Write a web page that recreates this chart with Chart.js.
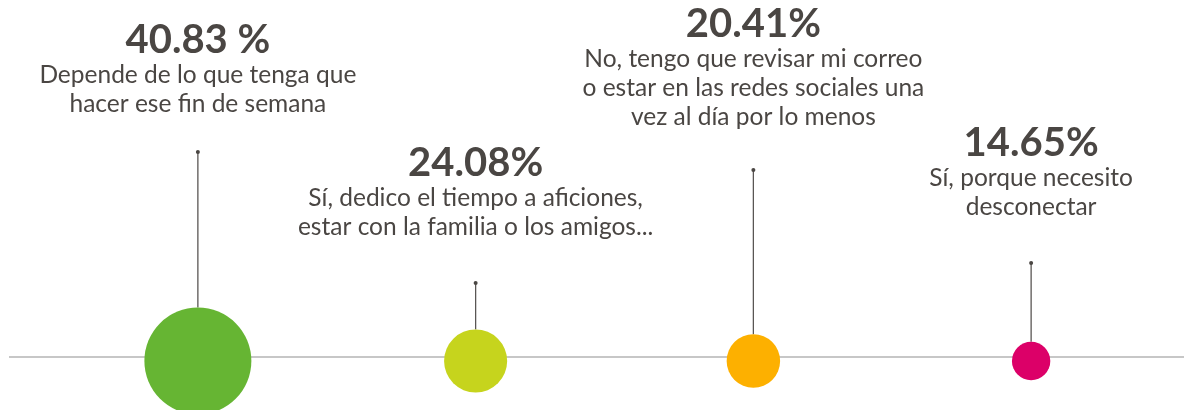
<!DOCTYPE html>
<html>
<head>
<meta charset="utf-8">
<title>Fin de semana</title>
<script src="https://cdn.jsdelivr.net/npm/chart.js"></script>
<style>
html, body { margin: 0; padding: 0; background: #fff; }
.chart-container { position: relative; width: 1184px; height: 410px; }
</style>
</head>
<body>
<div class="chart-container"><canvas id="myChart"></canvas></div>
<script>
// Data
const categories = [
  ['Depende de lo que tenga que', 'hacer ese fin de semana'],
  ['Sí, dedico el tiempo a aficiones,', 'estar con la familia o los amigos...'],
  ['No, tengo que revisar mi correo', 'o estar en las redes sociales una', 'vez al día por lo menos'],
  ['Sí, porque necesito', 'desconectar']
];
const values = [40.83, 24.08, 20.41, 14.65];
const valueLabels = ['40.83 %', '24.08%', '20.41%', '14.65%'];
const colors = ['#66b533', '#c6d41d', '#fdb000', '#dc0068'];

// Layout (pixels)
const stemTops = [152, 283, 170, 263];
const pctBaselines = [53, 176, 37, 156];
const radiusPerPoint = 1.31;
const baselineY = 357;
const textColor = '#4a4643';

// Draws the baseline, stems, dots and labels
const annotate = {
  id: 'annotate',
  beforeDatasetsDraw(chart) {
    const c = chart.ctx;
    c.save();
    c.strokeStyle = '#b4b4b4';
    c.lineWidth = 1.5;
    c.beginPath();
    c.moveTo(9, baselineY);
    c.lineTo(chart.width, baselineY);
    c.stroke();

    const meta = chart.getDatasetMeta(0);
    meta.data.forEach((pt, i) => {
      const r = pt.options.radius;
      c.strokeStyle = '#5a5654';
      c.lineWidth = 1.3;
      c.beginPath();
      c.moveTo(pt.x, pt.y - r);
      c.lineTo(pt.x, stemTops[i]);
      c.stroke();
      c.fillStyle = textColor;
      c.beginPath();
      c.arc(pt.x, stemTops[i], 2, 0, Math.PI * 2);
      c.fill();

      c.textAlign = 'center';
      c.textBaseline = 'alphabetic';
      c.font = 'bold 40px Lato';
      c.fillText(valueLabels[i], pt.x, pctBaselines[i]);
      c.font = '24.5px Lato';
      categories[i].forEach((line, j) => {
        c.fillText(line, pt.x, pctBaselines[i] + 30 + 28.8 * j);
      });
    });
    c.restore();
  }
};

const ctx = document.getElementById('myChart').getContext('2d');
const chart = new Chart(ctx, {
  type: 'bubble',
  data: {
    datasets: [{
      data: values.map((v, i) => ({ x: i, y: 0, r: v * radiusPerPoint })),
      backgroundColor: colors,
      hoverBackgroundColor: colors,
      borderWidth: 0,
      clip: false
    }]
  },
  options: {
    responsive: true,
    maintainAspectRatio: false,
    animation: false,
    layout: { autoPadding: false, padding: { left: 59, right: 14, top: 0, bottom: 49 } },
    scales: {
      x: { type: 'linear', min: -0.5, max: 3.5, display: false },
      y: { min: 0, max: 1, display: false }
    },
    plugins: {
      legend: { display: false },
      tooltip: { enabled: false }
    }
  },
  plugins: [annotate]
});
</script>
</body>
</html>
